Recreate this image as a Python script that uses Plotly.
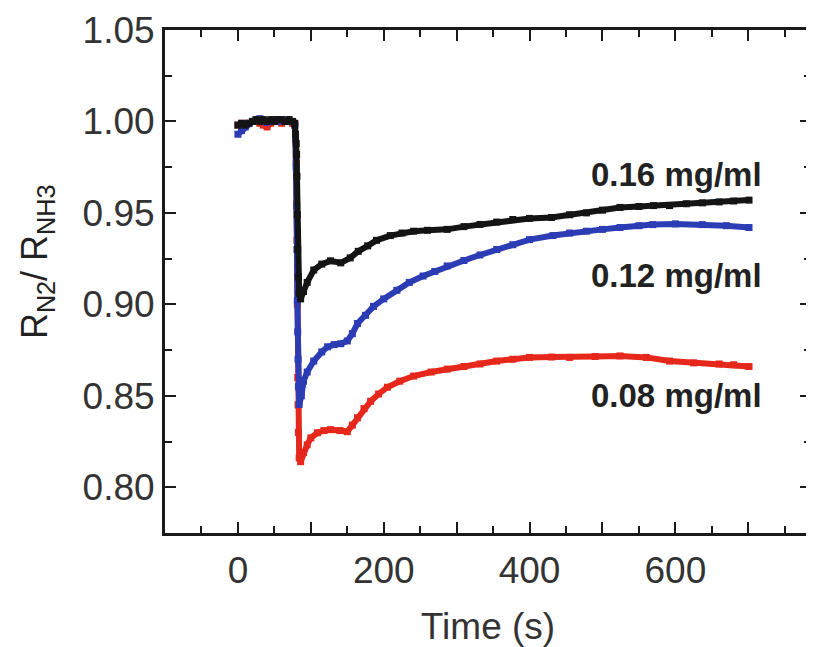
import plotly.graph_objects as go

# ---- data ----
t_016 = [0, 5, 10, 15, 20, 25, 30, 35, 40, 45, 50, 55, 60, 65, 70, 75, 78, 79, 80, 80.5, 81, 81.5, 82, 83, 84, 86,
         90, 95, 104, 115, 127, 141, 154, 165, 178, 190, 209, 225, 241, 260, 287, 310, 332, 355, 377, 400, 430,
         455, 478, 500, 524, 550, 570, 592, 615, 637, 660, 680, 701]
r_016 = [0.998, 0.999, 0.998, 0.999, 1.000, 1.001, 1.000, 1.001, 1.000, 1.001, 1.000, 1.001, 1.001, 1.000, 1.001,
         1.000, 0.999, 0.993, 0.988, 0.982, 0.970, 0.949, 0.930, 0.915, 0.906, 0.903,
         0.907, 0.912, 0.9188, 0.922, 0.9238, 0.9227, 0.9254, 0.929, 0.932, 0.935, 0.9376, 0.939, 0.940, 0.9405,
         0.941, 0.9425, 0.9437, 0.945, 0.9464, 0.947, 0.9475, 0.949, 0.950, 0.9515, 0.953, 0.9535, 0.954, 0.954,
         0.955, 0.9555, 0.956, 0.9565, 0.957]

t_012 = [0, 5, 10, 15, 20, 25, 30, 35, 40, 45, 50, 55, 60, 65, 70, 75, 78, 79, 80, 80.5, 81, 81.5, 82, 82.5, 83, 84,
         87, 90, 95, 104, 115, 123, 132, 141, 150, 157, 164, 175, 186, 200, 218, 235, 254, 270, 287, 310, 332,
         355, 377, 400, 432, 455, 478, 500, 524, 550, 569, 600, 637, 670, 701]
r_012 = [0.993, 0.995, 0.997, 0.999, 1.000, 1.001, 1.0015, 1.000, 0.9995, 1.000, 1.001, 1.000, 1.001, 1.000,
         1.001, 1.000, 0.998, 0.9917, 0.975, 0.954, 0.930, 0.902, 0.885, 0.870, 0.855, 0.8453,
         0.850, 0.858, 0.863, 0.869, 0.874, 0.8768, 0.878, 0.8785, 0.880, 0.884, 0.8895, 0.894, 0.8989, 0.903,
         0.9077, 0.912, 0.9155, 0.918, 0.921, 0.924, 0.927, 0.930, 0.9326, 0.9354, 0.9376, 0.939, 0.940, 0.941,
         0.942, 0.943, 0.9436, 0.944, 0.9436, 0.943, 0.942]

t_008 = [0, 5, 10, 15, 20, 25, 30, 35, 40, 45, 50, 55, 60, 65, 70, 75, 78, 79, 80, 80.5, 81, 81.5, 82, 82.5, 83, 84,
         86, 90, 95, 100, 109, 118, 127, 140, 150, 157, 164, 173, 182, 193, 205, 222, 241, 265, 287, 310, 332,
         355, 377, 400, 430, 455, 490, 524, 560, 592, 625, 660, 680, 701]
r_008 = [0.998, 0.999, 0.998, 0.999, 1.000, 1.000, 0.999, 0.998, 0.997, 0.999, 1.000, 1.000, 0.999, 1.000,
         1.000, 0.999, 0.998, 0.990, 0.977, 0.955, 0.935, 0.900, 0.860, 0.845, 0.830, 0.816,
         0.814, 0.819, 0.8232, 0.827, 0.8298, 0.831, 0.8315, 0.831, 0.8304, 0.834, 0.838, 0.843, 0.847, 0.851,
         0.8547, 0.858, 0.8608, 0.863, 0.8646, 0.866, 0.8674, 0.869, 0.870, 0.871, 0.8712, 0.871, 0.8715,
         0.8718, 0.871, 0.869, 0.868, 0.8674, 0.867, 0.866]

labels = ["0.16 mg/ml", "0.12 mg/ml", "0.08 mg/ml"]
label_y = [0.9712, 0.916, 0.8503]
label_x = 721

x_tickvals = [-100, 0, 100, 200, 300, 400, 500, 600, 700]
x_ticktext = ["", "0", "", "200", "", "400", "", "600", ""]
y_tickvals = [0.80, 0.85, 0.90, 0.95, 1.00, 1.05]
y_ticktext = ["0.80", "0.85", "0.90", "0.95", "1.00", "1.05"]

colors = {"0.16": "#141414", "0.12": "#2b3cb4", "0.08": "#e6281c"}

FONT = "Liberation Sans, Arial, Helvetica, sans-serif"

fig = go.Figure()
for t, r, key in [(t_008, r_008, "0.08"), (t_012, r_012, "0.12"), (t_016, r_016, "0.16")]:
    fig.add_trace(go.Scatter(
        x=t, y=r, mode="lines+markers",
        line=dict(color=colors[key], width=6),
        marker=dict(symbol="square", size=7, color=colors[key]),
        showlegend=False, cliponaxis=True,
    ))

for txt, yy in zip(labels, label_y):
    fig.add_annotation(x=label_x, y=yy, xref="x", yref="y", text="<b>%s</b>" % txt,
                       showarrow=False, xanchor="right", yanchor="middle",
                       font=dict(family=FONT, size=33, color="#222222"))

# y-axis title as rotated annotation (plot area spans 649 px wide)
fig.add_annotation(x=-0.197, y=0.54, xref="paper", yref="paper",
                   text="R<sub>N2</sub>/ R<sub>NH3</sub>", textangle=-90, showarrow=False,
                   xanchor="center", yanchor="middle",
                   font=dict(family=FONT, size=36, color="#222222"))

axis_common = dict(
    showline=True, linecolor="#1a1a1a", linewidth=3, mirror="allticks",
    ticks="inside", ticklen=11, tickwidth=2, tickcolor="#1a1a1a",
    showgrid=False, zeroline=False,
    tickfont=dict(family=FONT, size=37, color="#333333"),
)

fig.update_xaxes(
    range=[-100, 786], tickmode="array", tickvals=x_tickvals, ticktext=x_ticktext,
    ticklabelstandoff=3,
    title=dict(text="Time (s)", font=dict(family=FONT, size=37, color="#333333"), standoff=28),
    minor=dict(ticks="inside", ticklen=7, tickwidth=2, tickcolor="#1a1a1a", dtick=50, tick0=0),
    **axis_common,
)
fig.update_yaxes(
    range=[0.775, 1.05], tickmode="array", tickvals=y_tickvals, ticktext=y_ticktext,
    ticklabelstandoff=0,
    minor=dict(ticks="inside", ticklen=7, tickwidth=2, tickcolor="#1a1a1a", dtick=0.025, tick0=0.8),
    **axis_common,
)

# page body has a small margin: compensate so the plot area lands at x 163..812, y 30..528
fig.update_layout(
    width=808, height=639,
    margin=dict(l=157, r=2, t=22, b=111),
    paper_bgcolor="white", plot_bgcolor="white",
    font=dict(family=FONT),
)

fig.write_html("out.html")
